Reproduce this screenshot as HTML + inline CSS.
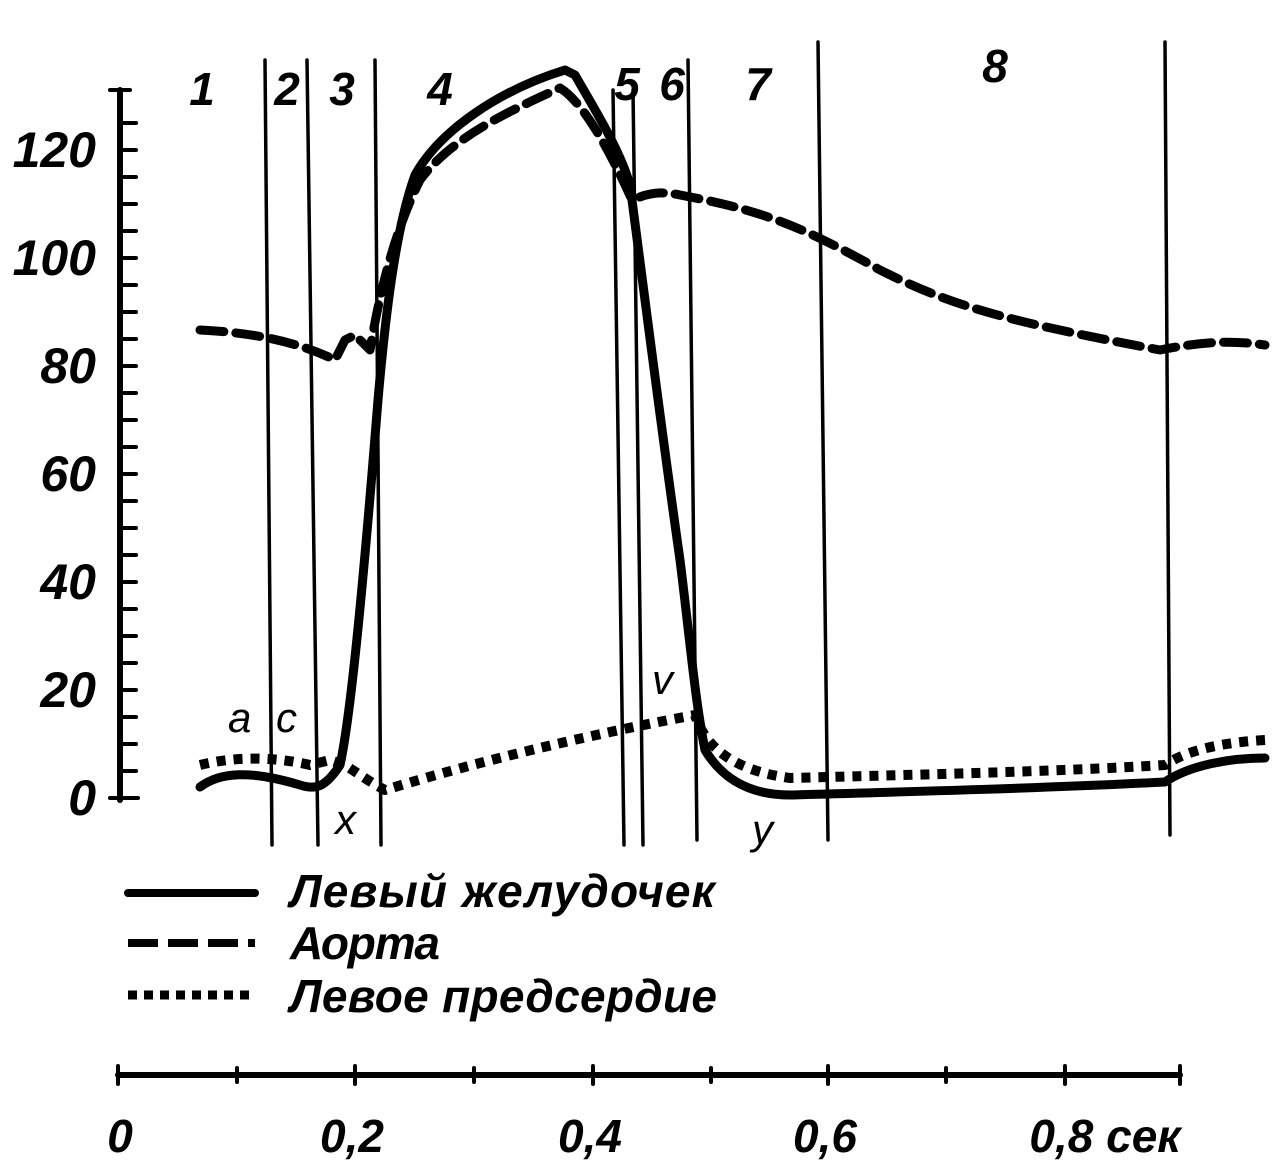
<!DOCTYPE html>
<html><head><meta charset="utf-8"><style>
html,body{margin:0;padding:0;background:#fff}
svg{display:block}
text{font-family:"Liberation Sans",sans-serif;font-style:italic;fill:#000}
</style></head><body>
<svg width="1272" height="1167" viewBox="0 0 1272 1167" xmlns="http://www.w3.org/2000/svg">
<g stroke="#000" fill="none" stroke-linecap="round" stroke-linejoin="round">
<line x1="120" y1="90" x2="120" y2="800" stroke-width="6"/>
<g stroke-width="4">
<line x1="110" y1="90" x2="130" y2="90"/>
<line x1="110" y1="798" x2="138" y2="798"/>
<line x1="120" y1="771" x2="136" y2="771"/><line x1="120" y1="744" x2="136" y2="744"/>
<line x1="120" y1="717" x2="136" y2="717"/><line x1="120" y1="690" x2="136" y2="690"/>
<line x1="120" y1="663" x2="136" y2="663"/><line x1="120" y1="636" x2="136" y2="636"/>
<line x1="120" y1="609" x2="136" y2="609"/><line x1="120" y1="582" x2="136" y2="582"/>
<line x1="120" y1="555" x2="136" y2="555"/><line x1="120" y1="528" x2="136" y2="528"/>
<line x1="120" y1="501" x2="136" y2="501"/><line x1="120" y1="474" x2="136" y2="474"/>
<line x1="120" y1="447" x2="136" y2="447"/><line x1="120" y1="420" x2="136" y2="420"/>
<line x1="120" y1="393" x2="136" y2="393"/><line x1="120" y1="366" x2="136" y2="366"/>
<line x1="120" y1="339" x2="136" y2="339"/><line x1="120" y1="312" x2="136" y2="312"/>
<line x1="120" y1="285" x2="136" y2="285"/><line x1="120" y1="258" x2="136" y2="258"/>
<line x1="120" y1="231" x2="136" y2="231"/><line x1="120" y1="204" x2="136" y2="204"/>
<line x1="120" y1="177" x2="136" y2="177"/><line x1="120" y1="150" x2="136" y2="150"/>
<line x1="120" y1="123" x2="136" y2="123"/>
</g>
<g stroke-width="3.5">
<line x1="265" y1="60" x2="272" y2="845"/>
<line x1="307" y1="60" x2="318" y2="845"/>
<line x1="375" y1="60" x2="381" y2="845"/>
<line x1="613" y1="90" x2="624" y2="845"/>
<line x1="633" y1="90" x2="643" y2="845"/>
<line x1="688" y1="60" x2="697" y2="840"/>
<line x1="818" y1="42" x2="828" y2="840"/>
<line x1="1165" y1="42" x2="1170" y2="835"/>
</g>
<path stroke-width="9" stroke-dasharray="24 12" d="M200,330 C240,332 290,338 335,360 L345,340 L355,335 L370,350 C380,290 395,230 420,180 C450,140 500,115 560,88 C580,100 605,140 632,200 C645,195 655,190 680,195 C760,210 800,225 880,270 C950,305 1000,320 1160,350 C1200,342 1230,340 1265,345"/>
<path stroke-width="10" stroke-linecap="butt" stroke-dasharray="9 8" d="M200,765 C240,755 280,758 310,765 L330,760 L345,765 C360,775 375,785 385,790 C450,770 560,740 695,715 C705,745 730,770 790,778 C900,775 1050,772 1165,765 C1190,748 1230,742 1265,740"/>
<path stroke-width="9" d="M200,787 C220,772 250,770 300,785 C315,790 325,788 340,765 C350,720 362,600 378,400 C385,320 395,230 415,175 C440,130 500,90 565,70 L575,75 C595,110 620,150 630,185 C640,260 660,420 680,560 C690,640 695,700 705,750 C720,775 745,795 790,795 C900,792 1050,788 1165,782 C1190,765 1230,758 1265,758"/>
<line x1="128" y1="893" x2="255" y2="893" stroke-width="8"/>
<line x1="128" y1="943" x2="255" y2="943" stroke-width="8" stroke-dasharray="30 10" stroke-linecap="butt"/>
<line x1="128" y1="995" x2="255" y2="995" stroke-width="9" stroke-dasharray="9 7" stroke-linecap="butt"/>
<line x1="118" y1="1075" x2="1180" y2="1075" stroke-width="6"/>
<g stroke-width="4">
<line x1="118" y1="1066" x2="118" y2="1084"/><line x1="237" y1="1068" x2="237" y2="1082"/>
<line x1="355" y1="1066" x2="355" y2="1084"/><line x1="474" y1="1068" x2="474" y2="1082"/>
<line x1="593" y1="1066" x2="593" y2="1084"/><line x1="711" y1="1068" x2="711" y2="1082"/>
<line x1="828" y1="1066" x2="828" y2="1084"/><line x1="946" y1="1068" x2="946" y2="1082"/>
<line x1="1065" y1="1066" x2="1065" y2="1084"/><line x1="1180" y1="1066" x2="1180" y2="1084"/>
</g>
</g>
<g font-size="50" text-anchor="end" font-weight="bold">
<text x="96" y="815">0</text><text x="96" y="707">20</text><text x="96" y="599">40</text>
<text x="96" y="491">60</text><text x="96" y="383">80</text><text x="96" y="275">100</text><text x="96" y="167">120</text>
</g>
<g font-size="46" text-anchor="middle" font-weight="bold">
<text x="202" y="105">1</text><text x="287" y="105">2</text><text x="342" y="105">3</text>
<text x="440" y="105">4</text><text x="627" y="100">5</text><text x="672" y="100">6</text>
<text x="758" y="100">7</text><text x="995" y="82">8</text>
<text x="120" y="1152">0</text><text x="352" y="1152">0,2</text><text x="590" y="1152">0,4</text>
<text x="825" y="1152">0,6</text><text x="1105" y="1152">0,8 сек</text>
</g>
<g font-size="42">
<text x="228" y="732">a</text><text x="276" y="732">c</text><text x="335" y="834">x</text>
<text x="652" y="694">v</text><text x="752" y="844">y</text>
</g>
<g font-size="46" font-weight="bold">
<text x="290" y="907" textLength="425">Левый желудочек</text>
<text x="290" y="959" textLength="150">Аорта</text>
<text x="290" y="1012" textLength="427">Левое предсердие</text>
</g>
</svg>
</body></html>
